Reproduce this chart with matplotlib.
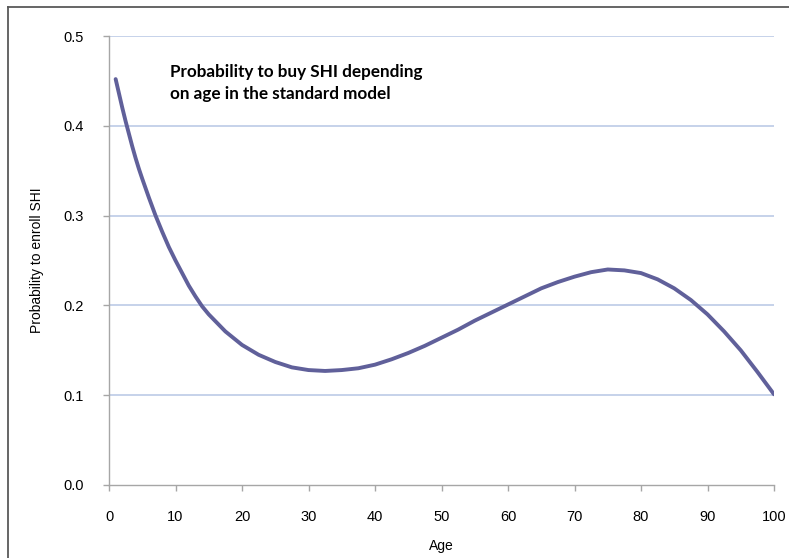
import numpy as np
import matplotlib
matplotlib.use('Agg')
import matplotlib.pyplot as plt
from matplotlib.lines import Line2D

# values
ages = [1, 1.5, 2, 2.5, 3, 3.5, 4, 4.5, 5, 6, 7, 8, 9, 10, 11, 12, 13, 14, 15,
        17.5, 20, 22.5, 25, 27.5, 30, 32.5, 35, 37.5, 40, 42.5, 45, 47.5, 50,
        52.5, 55, 57.5, 60, 62.5, 65, 67.5, 70, 72.5, 75, 77.5, 80, 82.5, 85,
        87.5, 90, 92.5, 95, 97.5, 100]
prob = [0.452, 0.436, 0.420, 0.405, 0.391, 0.377, 0.364, 0.352, 0.341, 0.320,
        0.300, 0.282, 0.265, 0.250, 0.236, 0.222, 0.210, 0.199, 0.190,
        0.171, 0.156, 0.145, 0.137, 0.131, 0.128, 0.127, 0.128, 0.130, 0.134,
        0.140, 0.147, 0.155, 0.164, 0.173, 0.183, 0.192, 0.201, 0.210, 0.219,
        0.226, 0.232, 0.237, 0.240, 0.239, 0.236, 0.229, 0.219, 0.206, 0.190,
        0.171, 0.150, 0.126, 0.101]
x_ticks = list(range(0, 101, 10))
y_ticks = [0.0, 0.1, 0.2, 0.3, 0.4, 0.5]

plt.rcParams['font.family'] = ['Liberation Sans', 'DejaVu Sans']

fig = plt.figure(figsize=(7.89, 5.58), dpi=100)
ax = fig.add_axes([109/789, 1 - 485/558, 665/789, 449/558])

for yv in y_ticks[1:]:
    ax.axhline(yv, color='#bccbe6', linewidth=1.2, zorder=1)

ax.plot(ages, prob, color='#60609a', linewidth=2.8, solid_capstyle='round',
        solid_joinstyle='round', zorder=3)

ax.set_xlim(0, 100)
ax.set_ylim(0, 0.5)
ax.set_xticks(x_ticks)
ax.set_yticks(y_ticks)
ax.set_yticklabels([f'{v:.1f}' for v in y_ticks])

for side in ['top', 'right']:
    ax.spines[side].set_visible(False)
for side in ['left', 'bottom']:
    ax.spines[side].set_color('#a6a6a6')
    ax.spines[side].set_linewidth(1.0)
ax.tick_params(axis='both', direction='out', length=4, width=1.0, color='#a6a6a6',
               labelsize=10.5, pad=14, labelcolor='black')

ax.set_xlabel('Age', fontsize=10)
ax.set_ylabel('Probability to enroll SHI', fontsize=10)
ax.xaxis.set_label_coords(0.5, -0.120)
ax.yaxis.set_label_coords(-0.098, 0.5)

fig.text(170/789, 1 - 64/558, 'Probability to buy SHI depending\non age in the standard model',
         fontsize=12.3, fontweight='bold', family=['Lato', 'DejaVu Sans'],
         va='top', ha='left', linespacing=1.45)

# outer chart frame (cropped on the right and bottom)
fig.add_artist(Line2D([8/789, 8/789], [0, 1 - 6.5/558], transform=fig.transFigure,
                      color='#595959', linewidth=1.3))
fig.add_artist(Line2D([8/789, 1], [1 - 6.5/558, 1 - 6.5/558], transform=fig.transFigure,
                      color='#595959', linewidth=1.3))

fig.savefig('out.png', dpi=100)
